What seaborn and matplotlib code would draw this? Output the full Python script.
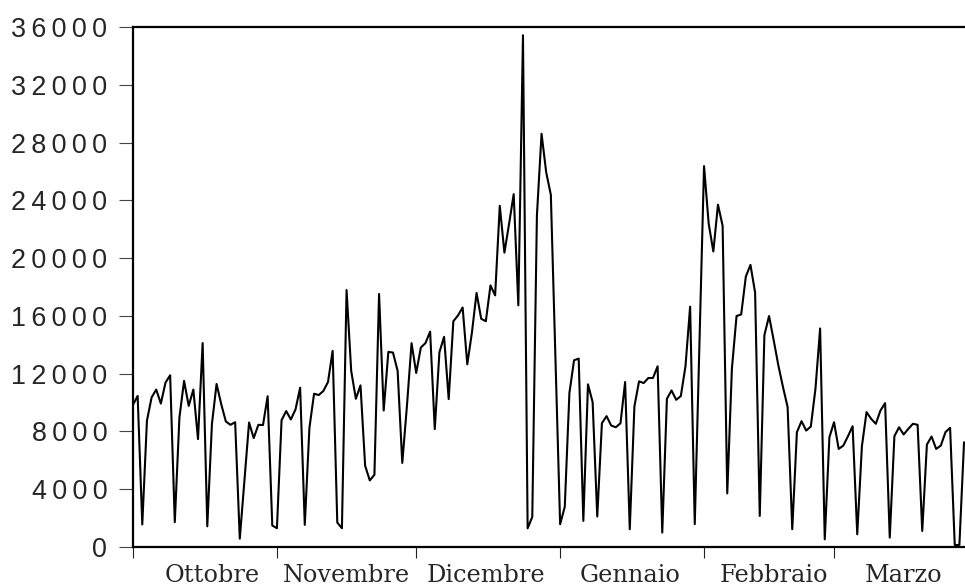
import numpy as np
import pandas as pd
import matplotlib
matplotlib.use("Agg")
import matplotlib.pyplot as plt
import matplotlib.dates as mdates
import seaborn as sns

# ---- data (daily values, 1 Oct 2004 - 29 Mar 2005) ----
oct_vals = [9840, 10460, 1560, 8740, 10350, 10900, 9930, 11380, 11890, 1720,
            8970, 11500, 9770, 10900, 7470, 14120, 1430, 8510, 11290, 9890,
            8690, 8460, 8640, 575, 4600, 8620, 7540, 8460, 8440, 10440, 1490]
nov_vals = [1300, 8780, 9410, 8830, 9520, 11030, 1530, 8250, 10610, 10520,
            10800, 11420, 13580, 1690, 1300, 17790, 12190, 10260, 11190, 5630,
            4610, 5000, 17520, 9450, 13510, 13460, 12190, 5820, 9750, 14110]
dec_vals = [12050, 13810, 14120, 14910, 8160, 13480, 14550, 10240, 15630, 16030,
            16580, 12650, 14840, 17590, 15800, 15630, 18110, 17420, 23620, 20380,
            22360, 24430, 16730, 35430, 1290, 2080, 22950, 28610, 25940, 24380, 13000]
jan_vals = [1580, 2780, 10660, 12930, 13040, 1810, 11260, 10030, 2110, 8570,
            9060, 8410, 8290, 8570, 11420, 1230, 9730, 11470, 11350, 11700,
            11700, 12510, 1000, 10260, 10840, 10190, 10450, 12510, 16640, 1580, 14000]
feb_vals = [26370, 22380, 20460, 23700, 22240, 3710, 12350, 15990, 16100, 18720,
            19530, 17610, 2150, 14670, 15990, 14320, 12580, 11080, 9690, 1230,
            7950, 8710, 8060, 8340, 10960, 15130, 530, 7600]
mar_vals = [8640, 6790, 7020, 7670, 8360, 880, 6970, 9340, 8870, 8530,
            9450, 9960, 650, 7670, 8290, 7790, 8180, 8530, 8460, 1110,
            7090, 7650, 6790, 7020, 7950, 8250, 140, 140, 7250]

month_labels = ["Ottobre", "Novembre", "Dicembre", "Gennaio", "Febbraio", "Marzo"]
y_ticks = [0, 4000, 8000, 12000, 16000, 20000, 24000, 28000, 32000, 36000]

values = oct_vals + nov_vals + dec_vals + jan_vals + feb_vals + mar_vals
dates = pd.date_range("2004-10-01", periods=len(values), freq="D")
df = pd.DataFrame({"data": dates, "valore": values})

# ---- style ----
sns.set_style("ticks")
plt.rcParams["font.family"] = ["Liberation Sans", "DejaVu Sans"]

W, H = 965, 587
fig = plt.figure(figsize=(W / 100, H / 100), dpi=100)
ax = fig.add_axes([133 / W, 1 - 547 / H, (W - 133) / W, (547 - 27) / H])

sns.lineplot(data=df, x="data", y="valore", ax=ax, color="black", linewidth=1.5)

ax.set_xlim(dates[0], dates[-1] + pd.Timedelta(hours=5))
ax.set_ylim(0, 36000)

# y axis
ax.set_yticks(y_ticks)
ax.set_yticklabels(["\u2009".join(str(v)) for v in y_ticks],
                   family=["Liberation Sans", "DejaVu Sans"], fontsize=19.4)
ax.tick_params(axis="y", direction="out", length=10, width=0.8, color="#444444", pad=8.5)

# x axis: month ticks (unlabelled) + month names near mid-month
month_starts = pd.date_range(dates[0], dates[-1], freq="MS")
ax.set_xticks(month_starts)
ax.set_xticklabels([])
ax.tick_params(axis="x", which="major", direction="out", length=8, width=0.8, color="#222222")
offsets = [17, 15, 15, 15, 15, 15]
label_pos = [ms + pd.Timedelta(days=o) for ms, o in zip(month_starts, offsets)]
ax.set_xticks(label_pos, minor=True)
ax.set_xticklabels(month_labels, minor=True, family=["DejaVu Serif"], fontsize=17.3)
ax.tick_params(axis="x", which="minor", length=0, pad=12)

ax.set_xlabel("")
ax.set_ylabel("")

for side in ["left", "bottom", "top"]:
    ax.spines[side].set_visible(True)
    ax.spines[side].set_linewidth(1.6)
    ax.spines[side].set_color("black")
ax.spines["right"].set_visible(False)

fig.savefig("out.png", dpi=100)
